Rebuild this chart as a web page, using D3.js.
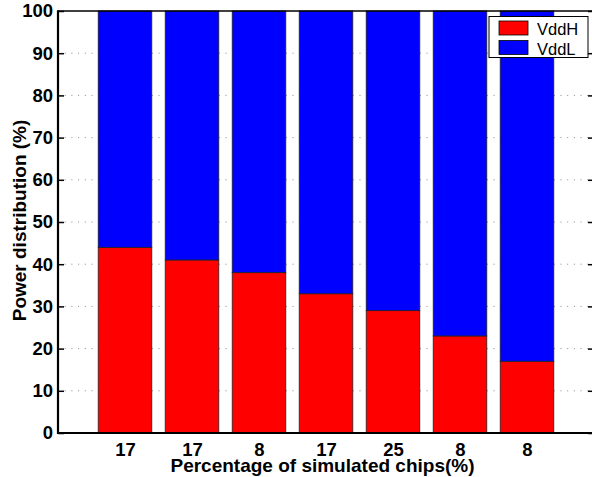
<!DOCTYPE html>
<html>
<head>
<meta charset="utf-8">
<script src="https://d3js.org/d3.v7.min.js"></script>
<style>
  body { margin: 0; background: #fff; }
  text { font-family: "Liberation Sans", Arial, Helvetica, sans-serif; }
</style>
</head>
<body>
<div id="chart"></div>
<script>
// data
var categories = ["17", "17", "8", "17", "25", "8", "8"];
var vddH = [44, 41, 38, 33, 29, 23, 17];
var vddL = [56, 59, 62, 67, 71, 77, 83];
var yTicks = [0, 10, 20, 30, 40, 50, 60, 70, 80, 90, 100];
var seriesNames = ["VddH", "VddL"];
var seriesColors = ["#ff0000", "#0000ff"];

var W = 592, H = 477;
// plot box (right edge sits just past the window, like the original)
var plot = {left: 58, right: 594, top: 11, bottom: 433};

var svg = d3.select("#chart").append("svg")
    .attr("width", W)
    .attr("height", H);

// x positions are 1..n like matlab bar()
var x = d3.scaleLinear()
    .domain([0, categories.length + 1])
    .range([plot.left, plot.right]);
var barW = (x(1) - x(0)) * 0.8;

var y = d3.scaleLinear()
    .domain([0, 100])
    .range([plot.bottom, plot.top]);

// dotted grid behind the bars
svg.append("g")
    .selectAll("line")
    .data(yTicks.slice(1, -1))
    .enter().append("line")
    .attr("x1", plot.left)
    .attr("x2", plot.right)
    .attr("y1", function(d) { return y(d); })
    .attr("y2", function(d) { return y(d); })
    .attr("stroke", "#888")
    .attr("stroke-width", 1)
    .attr("stroke-dasharray", "1,5.7");

// stacked bars
var stacked = categories.map(function(c, i) {
    return [[0, vddH[i]], [vddH[i], vddH[i] + vddL[i]]];
});

var bars = svg.append("g");
stacked.forEach(function(st, i) {
    st.forEach(function(seg, k) {
        bars.append("rect")
            .attr("x", x(i + 1) - barW / 2)
            .attr("width", barW)
            .attr("y", y(seg[1]))
            .attr("height", y(seg[0]) - y(seg[1]))
            .attr("fill", seriesColors[k])
            .attr("stroke", "#222")
            .attr("stroke-width", 0.8);
    });
});

// axes (ticks point inwards)
var yAxis = d3.axisLeft(y).tickValues(yTicks).tickSize(-6).tickPadding(5);
var gy = svg.append("g")
    .attr("transform", "translate(" + plot.left + ",0)")
    .call(yAxis);
gy.select(".domain").remove();
gy.selectAll(".tick line").attr("stroke", "#000").attr("stroke-width", 1.5);
gy.selectAll("text")
    .attr("font-size", 18.5)
    .attr("font-weight", "bold")
    .attr("fill", "#000");

var gyr = svg.append("g")
    .attr("transform", "translate(" + plot.right + ",0)")
    .call(d3.axisRight(y).tickValues(yTicks).tickSize(-6).tickFormat(""));
gyr.select(".domain").remove();
gyr.selectAll(".tick line").attr("stroke", "#000").attr("stroke-width", 1.5);

var xAxis = d3.axisBottom(x)
    .tickValues(d3.range(1, categories.length + 1))
    .tickFormat(function(d) { return categories[d - 1]; })
    .tickSize(0)
    .tickPadding(10);
var gx = svg.append("g")
    .attr("transform", "translate(0," + plot.bottom + ")")
    .call(xAxis);
gx.select(".domain").remove();
gx.selectAll("text")
    .attr("font-size", 18.5)
    .attr("font-weight", "bold")
    .attr("fill", "#000");

// frame
svg.append("line")
    .attr("x1", plot.left).attr("x2", plot.right)
    .attr("y1", plot.top).attr("y2", plot.top)
    .attr("stroke", "#000").attr("stroke-width", 1.6);
svg.append("line")
    .attr("x1", plot.left).attr("x2", plot.right)
    .attr("y1", plot.bottom).attr("y2", plot.bottom)
    .attr("stroke", "#000").attr("stroke-width", 2.2);
svg.append("line")
    .attr("x1", plot.left).attr("x2", plot.left)
    .attr("y1", plot.top - 0.8).attr("y2", plot.bottom + 1.1)
    .attr("stroke", "#000").attr("stroke-width", 2.2);

// axis titles
svg.append("text")
    .attr("x", 322.5)
    .attr("y", 472)
    .attr("text-anchor", "middle")
    .attr("font-size", 19)
    .attr("font-weight", "bold")
    .text("Percentage of simulated chips(%)");

svg.append("text")
    .attr("transform", "translate(25.5," + 220.5 + ") rotate(-90)")
    .attr("text-anchor", "middle")
    .attr("font-size", 19)
    .attr("font-weight", "bold")
    .text("Power distribution (%)");

// legend
var lg = svg.append("g");
lg.append("rect")
    .attr("x", 489).attr("y", 16.5)
    .attr("width", 99).attr("height", 41)
    .attr("fill", "#fff")
    .attr("stroke", "#000")
    .attr("stroke-width", 1);
seriesNames.forEach(function(name, k) {
    lg.append("rect")
        .attr("x", 499).attr("y", 21 + k * 19.5)
        .attr("width", 29).attr("height", 14)
        .attr("fill", seriesColors[k])
        .attr("stroke", "#000")
        .attr("stroke-width", 0.8);
    lg.append("text")
        .attr("x", 537).attr("y", 35 + k * 19.5)
        .attr("font-size", 16.5)
        .text(name);
});
</script>
</body>
</html>
